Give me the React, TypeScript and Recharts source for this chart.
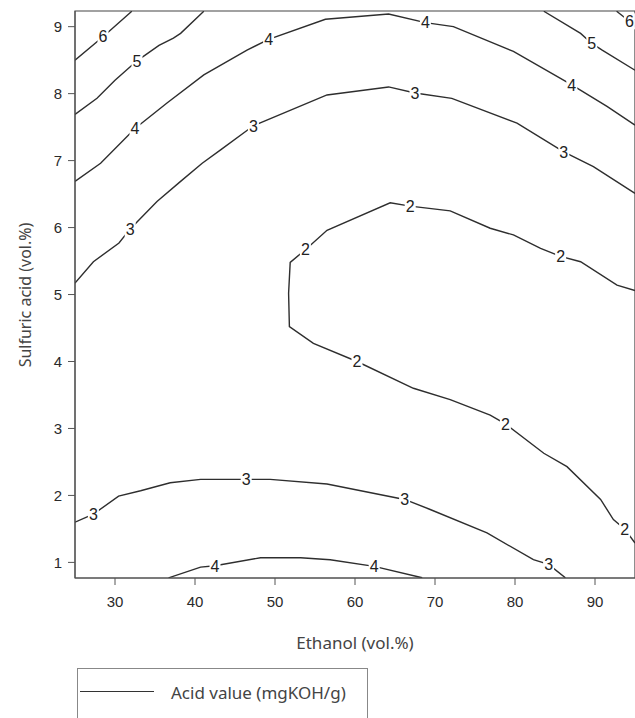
import React from 'react';
import { ComposedChart, Line, Scatter, XAxis, YAxis, ReferenceArea } from 'recharts';

// contour lines of acid value (x = ethanol vol.%, y = sulfuric acid vol.%)
const c6Left = [{x:25,y:8.5},{x:28.5,y:8.85},{x:32.1,y:9.23}];
const c6Right = [{x:92.7,y:9.23},{x:94.3,y:9.08},{x:95,y:9.0}];
const c5Left = [{x:25,y:7.69},{x:27.75,y:7.93},{x:30,y:8.2},{x:32.75,y:8.49},{x:35.5,y:8.72},{x:37.3,y:8.83},{x:38.2,y:8.9},{x:41.1,y:9.23}];
const c5Right = [{x:83.6,y:9.23},{x:88.2,y:8.9},{x:89.6,y:8.75},{x:90.9,y:8.65},{x:95,y:8.35}];
const c4Upper = [{x:25,y:6.69},{x:28.2,y:6.96},{x:32.5,y:7.48},{x:36.5,y:7.86},{x:41.1,y:8.28},{x:46.5,y:8.65},{x:49.2,y:8.81},{x:56.3,y:9.11},{x:64.2,y:9.19},{x:68.8,y:9.06},{x:72.3,y:9.0},{x:79.8,y:8.63},{x:87.1,y:8.13},{x:91.5,y:7.81},{x:95,y:7.53}];
const c3Upper = [{x:25,y:5.17},{x:27.3,y:5.49},{x:30.5,y:5.77},{x:31.9,y:5.98},{x:35.25,y:6.39},{x:38.2,y:6.69},{x:40.9,y:6.96},{x:43.2,y:7.16},{x:47.3,y:7.52},{x:56.5,y:7.98},{x:64.2,y:8.1},{x:67.5,y:8.01},{x:72.1,y:7.93},{x:80.25,y:7.56},{x:86.1,y:7.13},{x:89.8,y:6.91},{x:95,y:6.51}];
const c2 = [{x:95,y:5.06},{x:92.75,y:5.14},{x:88.2,y:5.49},{x:85.7,y:5.57},{x:83.2,y:5.69},{x:79.8,y:5.89},{x:76.9,y:5.99},{x:71.9,y:6.25},{x:66.9,y:6.32},{x:64.4,y:6.37},{x:56.5,y:5.96},{x:53.8,y:5.67},{x:51.9,y:5.48},{x:51.7,y:5.02},{x:51.8,y:4.52},{x:54.8,y:4.27},{x:60.25,y:4.0},{x:67.3,y:3.6},{x:71.9,y:3.43},{x:76.9,y:3.2},{x:78.8,y:3.07},{x:83.6,y:2.63},{x:86.5,y:2.43},{x:90.7,y:1.94},{x:92.3,y:1.64},{x:93.7,y:1.5},{x:95,y:1.29}];
const c3Lower = [{x:25,y:1.6},{x:27.3,y:1.72},{x:30.45,y:1.99},{x:33.2,y:2.07},{x:36.9,y:2.19},{x:40.7,y:2.24},{x:46.4,y:2.24},{x:49.4,y:2.24},{x:56.5,y:2.17},{x:66.2,y:1.94},{x:69.4,y:1.79},{x:76.5,y:1.44},{x:82.3,y:1.04},{x:84.2,y:0.97},{x:86.3,y:0.77}];
const c4Lower = [{x:36.7,y:0.77},{x:40.7,y:0.93},{x:42.5,y:0.95},{x:48.2,y:1.07},{x:53.2,y:1.07},{x:56.9,y:1.04},{x:62.4,y:0.94},{x:68.4,y:0.77}];

const contours = [c6Left, c6Right, c5Left, c5Right, c4Upper, c3Upper, c2, c3Lower, c4Lower];

// inline contour labels
const labels = [
  {x:28.5,y:8.85,v:'6'},{x:94.3,y:9.08,v:'6'},
  {x:32.75,y:8.49,v:'5'},{x:89.6,y:8.75,v:'5'},
  {x:32.5,y:7.48,v:'4'},{x:49.2,y:8.81,v:'4'},{x:68.8,y:9.06,v:'4'},{x:87.1,y:8.13,v:'4'},{x:42.5,y:0.95,v:'4'},{x:62.4,y:0.94,v:'4'},
  {x:31.9,y:5.98,v:'3'},{x:47.3,y:7.52,v:'3'},{x:67.5,y:8.01,v:'3'},{x:86.1,y:7.13,v:'3'},{x:27.3,y:1.72,v:'3'},{x:46.4,y:2.24,v:'3'},{x:66.2,y:1.94,v:'3'},{x:84.2,y:0.97,v:'3'},
  {x:53.8,y:5.67,v:'2'},{x:66.9,y:6.32,v:'2'},{x:85.7,y:5.57,v:'2'},{x:60.25,y:4.0,v:'2'},{x:78.8,y:3.07,v:'2'},{x:93.7,y:1.5,v:'2'},
];

const xTicks = [30, 40, 50, 60, 70, 80, 90];
const yTicks = [1, 2, 3, 4, 5, 6, 7, 8, 9];
const xDomain = [25, 95];
const yDomain = [0.767, 9.234];

const tickFont = { fontFamily: 'Liberation Sans, Arial, sans-serif', fontSize: 15, fill: '#2a2a2a' };
const titleFont = '"Noto Sans", sans-serif';

const LabelShape = (props: any) => {
  const { cx, cy, payload } = props;
  return (
    <g>
      <rect x={cx - 5.5} y={cy - 8} width={11} height={16} fill="#fff" />
      <text x={cx} y={cy} dy="0.36em" textAnchor="middle" fontFamily="Liberation Sans, Arial, sans-serif" fontSize={16} fill="#222">{payload.v}</text>
    </g>
  );
};

export default function App() {
  return (
    <div style={{ position: 'relative', width: 635, height: 718, overflow: 'hidden', background: '#fff' }}>
      <style>{'body{margin:0}'}</style>
      <ComposedChart width={635} height={618} margin={{ top: 11, right: 0, left: 0, bottom: 0 }}>
        <XAxis dataKey="x" type="number" domain={xDomain} ticks={xTicks} allowDataOverflow
          height={40} tickSize={7} tickMargin={11} stroke="#555" tick={tickFont} />
        <YAxis dataKey="y" type="number" domain={yDomain} ticks={yTicks} allowDataOverflow
          width={75} tickSize={7} tickMargin={6} stroke="#555" tick={tickFont} />
        <ReferenceArea x1={25} x2={95} y1={yDomain[0]} y2={yDomain[1]} fill="none" stroke="#444" strokeWidth={1.2} />
        {contours.map((d, i) => (
          <Line key={i} data={d} dataKey="y" type="linear" stroke="#2e2e2e" strokeWidth={1.4} dot={false} isAnimationActive={false} />
        ))}
        <Scatter data={labels} dataKey="y" shape={LabelShape} isAnimationActive={false} />
      </ComposedChart>
      <div style={{ position: 'absolute', left: 75, width: 560, top: 631, textAlign: 'center', fontFamily: titleFont, fontSize: 17, color: '#444' }}>
        Ethanol (vol.%)
      </div>
      <div style={{ position: 'absolute', left: 25, top: 295, transform: 'translate(-50%, -50%) rotate(-90deg)', whiteSpace: 'nowrap', fontFamily: titleFont, fontSize: 16, color: '#444' }}>
        Sulfuric acid (vol.%)
      </div>
      <div style={{ position: 'absolute', left: 77, top: 668, width: 291, height: 70, border: '1px solid #888', boxSizing: 'border-box' }}>
        <div style={{ position: 'absolute', left: 2, top: 22, width: 74, borderTop: '1.5px solid #333' }} />
        <div style={{ position: 'absolute', left: 93, top: 12, fontFamily: titleFont, fontSize: 17, color: '#444', whiteSpace: 'nowrap' }}>
          Acid value (mgKOH/g)
        </div>
      </div>
    </div>
  );
}
